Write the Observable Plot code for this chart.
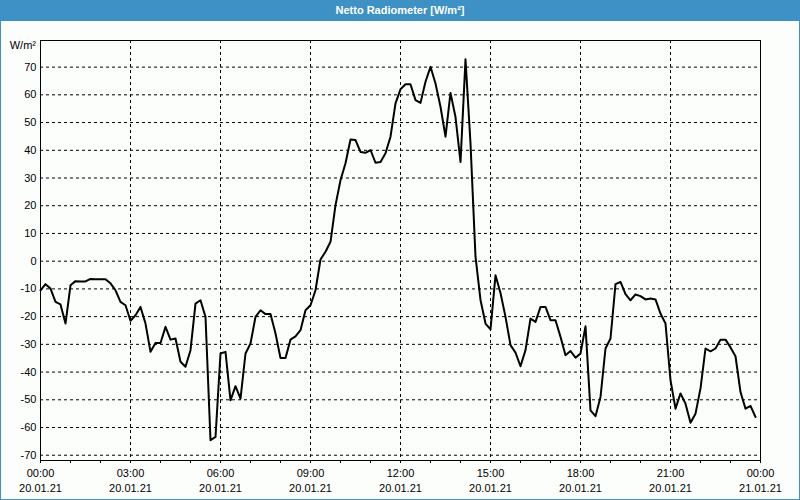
<!DOCTYPE html>
<html>
<head>
<meta charset="utf-8">
<script src="https://cdn.jsdelivr.net/npm/d3@7"></script>
<script src="https://cdn.jsdelivr.net/npm/@observablehq/plot@0.6"></script>
<style>
  html, body { margin: 0; padding: 0; background: #fcfefc; }
  #wrap {
    position: relative; width: 800px; height: 500px; box-sizing: border-box;
    border: 1px solid #3d91c4; border-top: none; background: #fcfefc; overflow: hidden;
    font-family: "Liberation Sans", Arial, sans-serif;
  }
  #title {
    height: 21px; background: #3d91c4; color: #fff; font-weight: bold;
    font-size: 11px; line-height: 21px; text-align: center; margin: 0 -1px;
  }
  #unit {
    position: absolute; right: 763px; top: 39px; font-size: 11px; color: #000;
  }
  #chart svg { display: block; }
</style>
</head>
<body>
<div id="wrap">
  <div id="title">Netto Radiometer [W/m²]</div>
  <div id="unit">W/m²</div>
  <div id="chart"></div>
</div>
<script>
// Sampling: one reading every 10 minutes starting 20.01.21 00:00
const stepMinutes = 10;
// Net radiation values [W/m²]
const values = [
  -10.5, -8.3, -9.9, -14.7, -15.6, -22.5, -8.7, -7.2, -7.3, -7.3,
  -6.4, -6.5, -6.5, -6.5, -8.0, -10.5, -14.7, -15.9, -21.5, -19.5,
  -16.5, -22.5, -32.7, -29.5, -29.5, -23.7, -28.3, -27.9, -36.3, -38.1,
  -32.1, -15.3, -14.1, -20.1, -64.6, -63.4, -33.3, -32.7, -50.2, -45.1,
  -49.6, -33.3, -29.7, -20.1, -17.7, -19.1, -19.1, -26.1, -34.9, -34.9,
  -28.3, -27.1, -24.9, -17.7, -15.9, -10.5, 0.6, 3.4, 7.0, 20.2,
  29.2, 35.3, 43.9, 43.7, 39.4, 39.1, 40.1, 35.5, 35.8, 38.9,
  44.9, 56.9, 62.0, 63.8, 63.8, 58.1, 57.1, 64.7, 70.1, 64.1,
  55.7, 44.9, 60.7, 52.0, 35.8, 72.8, 42.5, 1.6, -14.0, -22.5,
  -24.6, -5.1, -11.5, -20.1, -30.3, -33.0, -37.9, -32.1, -20.7, -21.9,
  -16.5, -16.5, -21.3, -21.3, -27.3, -33.9, -32.4, -34.8, -33.3, -23.5,
  -53.8, -55.9, -49.0, -31.5, -27.9, -8.3, -7.5, -11.9, -14.1, -12.0,
  -12.6, -13.8, -13.5, -13.8, -18.9, -22.5, -42.9, -53.2, -47.7, -51.4,
  -58.3, -55.0, -45.9, -31.5, -32.5, -31.5, -28.3, -28.3, -31.1, -34.3,
  -47.2, -53.2, -52.2, -56.2
];
// Axis ticks (hours since 20.01.21 00:00)
const labelHours = [0, 3, 6, 9, 12, 15, 18, 21, 24];
const timeLabels = ["00:00", "03:00", "06:00", "09:00", "12:00", "15:00", "18:00", "21:00", "00:00"];
const dateLabels = ["20.01.21", "20.01.21", "20.01.21", "20.01.21", "20.01.21", "20.01.21", "20.01.21", "20.01.21", "21.01.21"];
const minorHours = d3.range(0, 25, 1);
const yTicks = [70, 60, 50, 40, 30, 20, 10, 0, -10, -20, -30, -40, -50, -60, -70];

const data = values.map((v, i) => ({h: i * stepMinutes / 60, v}));

const chart = Plot.plot({
  width: 798,
  height: 478,
  marginLeft: 39,
  marginRight: 39,
  marginTop: 19,
  marginBottom: 39,
  style: {fontFamily: "'Liberation Sans', Arial, sans-serif", fontSize: "11px", background: "transparent", color: "#000"},
  x: {domain: [0, 24]},
  y: {domain: [-71.9, 79.6]},
  marks: [
    Plot.gridY(yTicks, {stroke: "#000", strokeOpacity: 1, strokeDasharray: "3,3"}),
    Plot.gridX(labelHours.slice(1, -1), {stroke: "#000", strokeOpacity: 1, strokeDasharray: "3,3"}),
    Plot.axisY({ticks: yTicks, tickSize: 0, tickPadding: 4, label: null, tickFormat: d => String(d)}),
    Plot.axisX({ticks: minorHours, tickSize: 3, label: null, tickFormat: () => ""}),
    Plot.axisX({ticks: labelHours, tickSize: 0, tickPadding: 9, label: null,
      tickFormat: d => timeLabels[labelHours.indexOf(d)]}),
    Plot.axisX({ticks: labelHours, tickSize: 0, tickPadding: 24, label: null,
      tickFormat: d => dateLabels[labelHours.indexOf(d)]}),
    Plot.frame({stroke: "#000"}),
    Plot.line(data, {x: "h", y: "v", stroke: "#000", strokeWidth: 2})
  ]
});
document.getElementById("chart").append(chart);
</script>
</body>
</html>
